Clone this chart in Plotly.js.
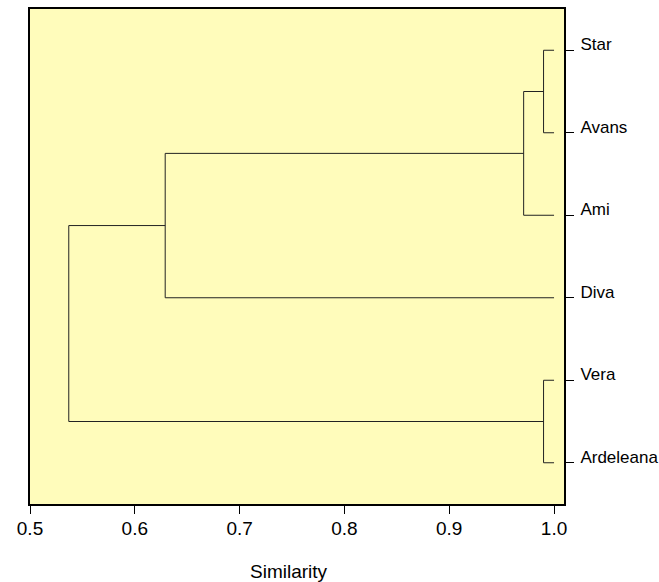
<!DOCTYPE html>
<html>
<head>
<meta charset="utf-8">
<script src="https://cdn.plot.ly/plotly-3.0.1.min.js"></script>
<style>html,body{margin:0;padding:0;background:#fff;}#chart{width:659px;height:582px;}</style>
</head>
<body>
<div id="chart"></div>
<script>
// Leaves in display order (top to bottom)
const leaves = ["Star", "Avans", "Ami", "Diva", "Vera", "Ardeleana"];
const leafSimilarity = 1.0;
// Merges (scipy-style: ids 0..5 are leaves, 6.. are merged clusters)
const mergeA = [0, 4, 6, 8, 9];
const mergeB = [1, 5, 2, 3, 7];
const mergeSimilarity = [0.990, 0.990, 0.971, 0.629, 0.537];
const xTickVals = [0.5, 0.6, 0.7, 0.8, 0.9, 1.0];
const xTickText = ["0.5", "0.6", "0.7", "0.8", "0.9", "1.0"];

const n = leaves.length;
const nodeX = [], nodeY = [];
leaves.forEach((l, i) => { nodeX.push(leafSimilarity); nodeY.push(n - 1 - i); });

const xs = [], ys = [];
mergeSimilarity.forEach((s, i) => {
  const a = mergeA[i], b = mergeB[i];
  xs.push(nodeX[a], s, s, nodeX[b], null);
  ys.push(nodeY[a], nodeY[a], nodeY[b], nodeY[b], null);
  nodeX.push(s);
  nodeY.push((nodeY[a] + nodeY[b]) / 2);
});

const font = "Liberation Sans, Arial, sans-serif";
const trace = {
  type: "scatter", mode: "lines", x: xs, y: ys,
  line: {color: "#222222", width: 1}, hoverinfo: "skip", showlegend: false,
  connectgaps: false
};

const layout = {
  width: 659, height: 582,
  margin: {l: 30, r: 95, t: 9, b: 78},
  paper_bgcolor: "#ffffff",
  plot_bgcolor: "#FFFCBB",
  font: {family: font, color: "#000", size: 16},
  xaxis: {
    range: [0.5, 1.0095], showgrid: false, zeroline: false,
    tickvals: xTickVals, ticktext: xTickText,
    ticks: "outside", ticklen: 8, tickwidth: 1, tickcolor: "#000",
    showline: true, mirror: true, linewidth: 2, linecolor: "#000",
    ticklabelstandoff: -2,
    tickfont: {family: font, size: 19, color: "#000"}
  },
  yaxis: {
    range: [-0.5, 5.5], side: "right", showgrid: false, zeroline: false,
    tickvals: leaves.map((l, i) => n - 1 - i), ticktext: leaves,
    ticks: "outside", ticklen: 8, tickwidth: 1, tickcolor: "#000",
    showline: true, mirror: true, linewidth: 2, linecolor: "#000",
    ticklabelshift: -6, ticklabelstandoff: 3,
    tickfont: {family: font, size: 17, color: "#000"}
  },
  annotations: [{
    text: "Similarity", xref: "paper", yref: "paper", x: 0.485, y: -0.1354,
    xanchor: "center", yanchor: "middle", showarrow: false,
    font: {family: font, size: 19, color: "#000"}
  }]
};

Plotly.newPlot("chart", [trace], layout, {displayModeBar: false, staticPlot: true});
</script>
</body>
</html>
